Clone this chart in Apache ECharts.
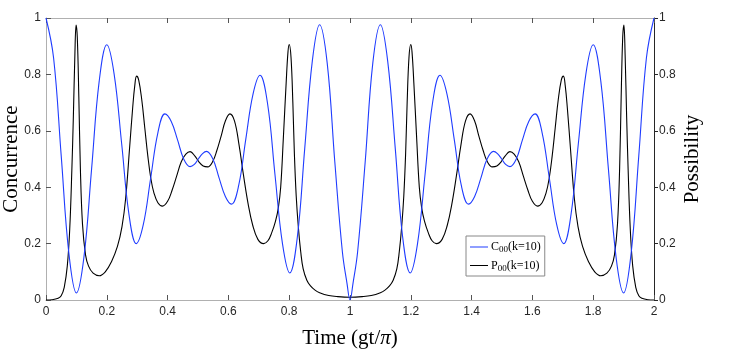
<!DOCTYPE html>
<html>
<head>
<meta charset="utf-8">
<script src="https://cdn.jsdelivr.net/npm/echarts@6/dist/echarts.min.js"></script>
<style>
html,body{margin:0;padding:0;background:#fff;}
#chart{width:748px;height:355px;}
</style>
</head>
<body>
<div id="chart"></div>
<script>
// ---- data ----
var xTickLabels = ['0','0.2','0.4','0.6','0.8','1','1.2','1.4','1.6','1.8','2'];
var yTickLabels = ['0','0.2','0.4','0.6','0.8','1'];

// C00 (k=10), concurrence
var cTime = [0,0.025,0.05,0.075,0.1,0.125,0.15,0.175,0.2,0.224,0.249,0.273,0.297,0.32,0.344,0.368,0.391,0.412,0.433,0.453,0.474,0.488,0.501,0.515,0.528,0.549,0.569,0.59,0.61,0.634,0.657,0.681,0.704,0.729,0.753,0.778,0.802,0.827,0.851,0.876,0.9,0.925,0.95,0.975,0.99,1.0,
             1.01,1.025,1.05,1.075,1.1,1.124,1.149,1.173,1.198,1.222,1.247,1.271,1.296,1.319,1.343,1.366,1.39,1.41,1.431,1.451,1.472,1.485,1.499,1.512,1.526,1.547,1.567,1.588,1.609,1.632,1.656,1.68,1.703,1.727,1.751,1.776,1.8,1.825,1.85,1.875,1.9,1.925,1.95,1.975,2.0];
var cVal  = [1.0,0.858,0.512,0.168,0.025,0.154,0.465,0.776,0.905,0.802,0.553,0.303,0.2,0.267,0.43,0.593,0.66,0.633,0.567,0.5,0.473,0.481,0.5,0.519,0.527,0.5,0.434,0.367,0.34,0.407,0.569,0.73,0.797,0.695,0.447,0.199,0.096,0.225,0.536,0.847,0.976,0.84,0.49,0.17,0.06,0.0,
             0.06,0.17,0.49,0.84,0.976,0.847,0.536,0.225,0.096,0.199,0.447,0.695,0.797,0.73,0.569,0.407,0.34,0.367,0.434,0.5,0.527,0.519,0.5,0.481,0.473,0.5,0.567,0.633,0.66,0.593,0.43,0.267,0.2,0.303,0.553,0.802,0.905,0.776,0.465,0.154,0.025,0.168,0.512,0.858,1.0];

// P00 (k=10), possibility
var pTime = [0,0.02,0.04,0.05,0.06,0.07,0.078,0.085,0.09,0.095,0.099,0.103,0.108,0.113,0.12,0.13,0.14,0.155,0.175,0.195,0.215,0.235,0.25,0.262,0.275,0.285,0.292,0.298,0.305,0.315,0.325,0.335,0.345,0.355,0.368,0.383,0.4,0.415,0.43,0.445,0.46,0.474,0.49,0.503,0.517,0.532,0.548,0.562,0.577,0.59,0.605,0.62,0.635,0.65,0.665,0.68,0.697,0.716,0.73,0.742,0.755,0.764,0.772,0.781,0.79,0.796,0.8,0.806,0.812,0.817,0.823,0.83,0.838,0.846,0.858,0.87,0.885,0.9,0.93,0.96,1.0,
             1.04,1.07,1.1,1.115,1.13,1.142,1.154,1.162,1.17,1.177,1.183,1.188,1.194,1.2,1.204,1.21,1.219,1.228,1.236,1.245,1.258,1.27,1.284,1.303,1.32,1.335,1.35,1.365,1.38,1.395,1.41,1.423,1.438,1.452,1.468,1.483,1.497,1.51,1.526,1.54,1.555,1.57,1.585,1.6,1.617,1.632,1.645,1.655,1.665,1.675,1.685,1.695,1.702,1.708,1.715,1.725,1.738,1.75,1.765,1.785,1.805,1.825,1.845,1.86,1.87,1.88,1.887,1.892,1.897,1.901,1.905,1.91,1.915,1.922,1.93,1.94,1.95,1.96,1.98,2.0];
var pVal  = [0,0.001,0.006,0.015,0.045,0.12,0.25,0.46,0.65,0.87,0.975,0.93,0.72,0.47,0.27,0.16,0.12,0.095,0.086,0.1,0.135,0.19,0.26,0.36,0.54,0.68,0.76,0.794,0.78,0.71,0.61,0.51,0.43,0.38,0.345,0.333,0.35,0.39,0.44,0.49,0.517,0.526,0.51,0.49,0.475,0.472,0.49,0.53,0.585,0.635,0.66,0.635,0.55,0.44,0.34,0.265,0.215,0.2,0.21,0.237,0.28,0.325,0.4,0.58,0.77,0.88,0.906,0.86,0.7,0.52,0.37,0.26,0.17,0.11,0.07,0.05,0.035,0.026,0.016,0.012,0.01,
             0.012,0.016,0.026,0.035,0.05,0.07,0.11,0.17,0.26,0.37,0.52,0.7,0.86,0.906,0.88,0.77,0.58,0.4,0.325,0.28,0.237,0.21,0.2,0.215,0.265,0.34,0.44,0.55,0.635,0.66,0.635,0.585,0.53,0.49,0.472,0.475,0.49,0.51,0.526,0.517,0.49,0.44,0.39,0.35,0.333,0.345,0.38,0.43,0.51,0.61,0.71,0.78,0.794,0.76,0.68,0.54,0.36,0.26,0.19,0.135,0.1,0.086,0.095,0.12,0.16,0.27,0.47,0.72,0.93,0.975,0.87,0.65,0.46,0.25,0.12,0.045,0.015,0.006,0.001,0];

var seriesNames = ['C00(k=10)', 'P00(k=10)'];

function zip(a, b) { return a.map(function (t, i) { return [t, b[i]]; }); }

var chart = echarts.init(document.getElementById('chart'), null, {renderer: 'canvas'});
var tickFont = {fontFamily: '"Liberation Sans", Arial, sans-serif', fontSize: 12, color: '#262626'};
var titleFont = {fontFamily: '"Liberation Serif", "Times New Roman", serif', fontSize: 21, color: '#000'};
var gray = '#b0b0b0';

chart.setOption({
  animation: false,
  backgroundColor: '#fff',
  grid: {left: 46, right: 94, top: 18, bottom: 55, containLabel: false, outerBoundsMode: 'none'},
  legend: {
    orient: 'vertical',
    left: 466, top: 236,
    backgroundColor: '#fff',
    borderColor: '#888',
    borderWidth: 1,
    borderRadius: 0,
    padding: [5, 4, 3, 4],
    itemGap: 5,
    itemWidth: 18,
    itemHeight: 1,
    icon: 'rect',
    formatter: function (name) {
      return name === seriesNames[0] ? '{a|C}{s|00}{a|(k=10)}' : '{a|P}{s|00}{a|(k=10)}';
    },
    textStyle: {
      padding: [0, 0, 0, -2],
      rich: {
        a: {fontFamily: '"Liberation Serif", serif', fontSize: 12, color: '#000'},
        s: {fontFamily: '"Liberation Serif", serif', fontSize: 9, color: '#000', verticalAlign: 'bottom', padding: [6, 0, 0, 0]}
      }
    },
    data: seriesNames
  },
  xAxis: [{
    type: 'value', min: 0, max: 2, interval: 0.2,
    position: 'bottom',
    name: '{a|Time (gt/}{i|π}{a|)}',
    nameLocation: 'middle', nameGap: 28, nameMoveOverlap: false,
    nameTextStyle: {rich: {
      a: titleFont,
      i: {fontFamily: '"Liberation Serif", serif', fontSize: 21, fontStyle: 'italic', color: '#000'}
    }},
    axisLine: {show: true, onZero: false, lineStyle: {color: gray, width: 1}},
    axisTick: {show: true, inside: true, length: 5, lineStyle: {color: '#555'}},
    axisLabel: Object.assign({margin: 6, formatter: function (v) { return xTickLabels[Math.round(v / 0.2)]; }}, tickFont),
    splitLine: {show: false}
  }, {
    type: 'value', min: 0, max: 2, interval: 0.2,
    position: 'top',
    axisLine: {show: true, onZero: false, lineStyle: {color: gray, width: 1}},
    axisTick: {show: true, inside: true, length: 5, lineStyle: {color: '#555'}},
    axisLabel: {show: false},
    splitLine: {show: false}
  }],
  yAxis: [{
    type: 'value', min: 0, max: 1, interval: 0.2,
    position: 'left',
    name: 'Concurrence',
    nameLocation: 'middle', nameGap: 24, nameRotate: 90, nameMoveOverlap: false,
    nameTextStyle: titleFont,
    axisLine: {show: true, onZero: false, lineStyle: {color: gray, width: 1}},
    axisTick: {show: true, inside: true, length: 5, lineStyle: {color: '#555'}},
    axisLabel: Object.assign({margin: 5, formatter: function (v) { return yTickLabels[Math.round(v / 0.2)]; }}, tickFont),
    splitLine: {show: false}
  }, {
    type: 'value', min: 0, max: 1, interval: 0.2,
    position: 'right',
    name: 'Possibility',
    nameLocation: 'middle', nameGap: 28, nameRotate: 90, nameMoveOverlap: false,
    nameTextStyle: titleFont,
    axisLine: {show: true, onZero: false, lineStyle: {color: '#262626', width: 1}},
    axisTick: {show: true, inside: false, length: 4, lineStyle: {color: '#262626'}},
    axisLabel: Object.assign({margin: 5, formatter: function (v) { return yTickLabels[Math.round(v / 0.2)]; }}, tickFont),
    splitLine: {show: false}
  }],
  series: [{
    name: seriesNames[0],
    type: 'line',
    xAxisIndex: 0, yAxisIndex: 0,
    data: zip(cTime, cVal),
    smooth: 0.4,
    showSymbol: false,
    symbol: 'none',
    lineStyle: {color: '#1f3cff', width: 1.1},
    itemStyle: {color: '#1f3cff'},
    z: 3
  }, {
    name: seriesNames[1],
    type: 'line',
    xAxisIndex: 0, yAxisIndex: 1,
    data: zip(pTime, pVal),
    smooth: 0.4,
    showSymbol: false,
    symbol: 'none',
    lineStyle: {color: '#000', width: 1.1},
    itemStyle: {color: '#000'},
    z: 2
  }]
});
</script>
</body>
</html>
